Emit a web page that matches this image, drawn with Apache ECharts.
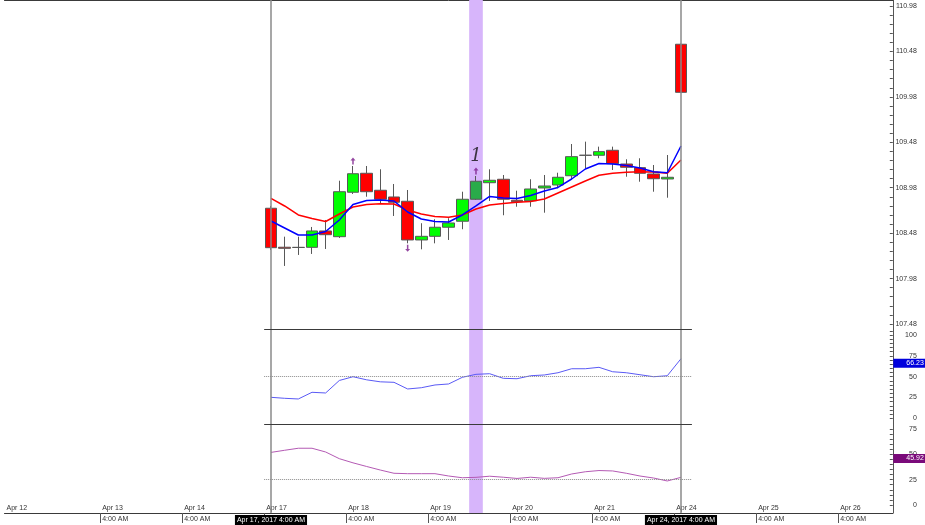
<!DOCTYPE html>
<html><head><meta charset="utf-8">
<script src="https://cdn.jsdelivr.net/npm/echarts@6/dist/echarts.min.js"></script>
<style>html,body{margin:0;padding:0;background:#fff}#c{width:925px;height:525px}</style>
</head><body><div id="c"></div>
<script>
// ---------- data ----------
const tradingDays = ['Apr 12','Apr 13','Apr 14','Apr 17','Apr 18','Apr 19','Apr 20','Apr 21','Apr 24','Apr 25','Apr 26'];
const sessionHours = ['4:00 AM','8:00 AM','12:00 PM','4:00 PM','8:00 PM','12:00 AM'];
const firstSlot = {day: 'Apr 12', hour: '12:00 AM'};
const slotCount = 65;
const candleStartDay = 'Apr 17';

// 4-hour candles [open, close, low, high]
const candles = [
  [108.754,108.320,108.295,108.779],
  [108.325,108.313,108.119,108.441],
  [108.322,108.324,108.240,108.441],
  [108.324,108.504,108.251,108.548],
  [108.504,108.463,108.306,108.625],
  [108.441,108.936,108.427,109.057],
  [108.930,109.134,108.911,109.219],
  [109.139,108.936,108.881,109.219],
  [108.952,108.853,108.809,109.183],
  [108.878,108.820,108.669,109.021],
  [108.831,108.405,108.368,108.955],
  [108.405,108.445,108.302,108.589],
  [108.445,108.545,108.368,108.633],
  [108.545,108.592,108.405,108.644],
  [108.611,108.853,108.523,108.936],
  [108.853,109.051,108.845,109.109],
  [109.035,109.062,108.834,109.183],
  [109.073,108.853,108.677,109.120],
  [108.842,108.826,108.771,108.947],
  [108.837,108.966,108.771,109.073],
  [108.977,108.999,108.705,109.120],
  [109.010,109.095,108.974,109.145],
  [109.112,109.322,109.065,109.461],
  [109.336,109.338,109.194,109.487],
  [109.337,109.377,109.304,109.432],
  [109.392,109.245,109.175,109.432],
  [109.241,109.205,109.101,109.293],
  [109.201,109.139,109.046,109.304],
  [109.131,109.079,108.936,109.230],
  [109.076,109.095,108.870,109.340],
  [110.559,110.030,110.025,110.565]
];
const maFast = [108.614,108.537,108.460,108.460,108.498,108.625,108.795,108.839,108.845,108.834,
  108.713,108.636,108.608,108.603,108.680,108.779,108.884,108.867,108.862,108.895,
  108.944,108.983,109.076,109.186,109.247,109.241,109.225,109.197,109.156,109.145,109.439];
const maSlow = [108.862,108.779,108.680,108.641,108.608,108.691,108.768,108.795,108.803,108.801,
  108.735,108.691,108.663,108.655,108.680,108.746,108.790,108.806,108.820,108.828,
  108.856,108.922,108.988,109.054,109.117,109.140,109.151,109.155,109.153,109.139,109.285];
const rsiValues = [25.2,24.0,23.2,31.2,30.4,45.4,49.9,46.2,43.8,43.2,35.2,36.7,40.0,41.2,49.2,52.8,
  53.5,48.0,47.5,51.1,52.0,54.7,59.5,59.5,61.2,55.9,54.7,52.3,49.9,51.1,71.5];
const stochValues = [51.9,54.0,56.0,56.0,52.3,45.7,41.6,38.0,34.5,31.3,30.9,30.9,30.9,28.6,26.9,27.3,
  28.4,27.4,26.2,27.4,26.3,26.9,30.6,32.8,34.0,33.6,31.3,28.6,26.6,23.7,27.3];
const rsiLast = 66.23;
const stochLast = 45.92;
const rsiLevel = 50;
const stochLevel = 25;
const priceTickLabels = [107.48,107.98,108.48,108.98,109.48,109.98,110.48,110.98];
const rsiTickLabels = [0,25,50,75,100];
const stochTickLabels = [0,25,50,75];
const arrowUpCandles = [6, 15];
const arrowDownCandles = [10];
const selectedCandle = 15;
const cursorCandles = [0, 30];
const noteText = '1';

// ---------- layout / build ----------
const FONT = 'Liberation Sans, Arial, sans-serif';
const slots = [firstSlot];
tradingDays.forEach(d => sessionHours.forEach(h => slots.push({day: d, hour: h})));
slots.length = slotCount;
const categories = slots.map((s, i) => s.day + ' ' + s.hour + ' #' + i);
const candleStart = slots.findIndex(s => s.day === candleStartDay && s.hour === sessionHours[0]);
const boundaryNames = [];
const upperLabel = [], lowerLabel = [];
for (let j = 0; j <= slotCount; j++) {
  boundaryNames.push('b' + j);
  const change = j < slotCount && j > 0 && slots[j].day !== slots[j - 1].day;
  upperLabel.push(j === 0 ? slots[0].day : (change ? slots[j].day : ''));
  lowerLabel.push(change ? slots[j].hour : '');
}
const dataStartX = candleStart;
const dataEndX = candleStart + candles.length + 0.3;
const bandX = candleStart + selectedCandle;

function ticks(a, b, step) { const r = []; for (let v = a; v <= b + 1e-9; v += step) r.push(+v.toFixed(4)); return r; }

const yRanges = [
  {min: 107.425, max: 111.046, labels: priceTickLabels, ticks: ticks(107.48, 111.0, 0.1), fmt: v => v.toFixed(2)},
  {min: -6.84, max: 107.2, labels: rsiTickLabels, ticks: ticks(0, 105, 5), fmt: v => String(v)},
  {min: -7.9, max: 79.93, labels: stochTickLabels, ticks: ticks(0, 75, 5), fmt: v => String(v)}
];

const grids = [
  {left: 4.5, right: 32.2, top: 0, height: 329},
  {left: 4.5, right: 32.2, top: 329, height: 95},
  {left: 4.5, right: 32.2, top: 424, height: 89}
];

const xAxes = [];
const catAxisIdx = [], valAxisIdx = [];
grids.forEach((g, gi) => {
  catAxisIdx.push(xAxes.length);
  xAxes.push({type: 'category', gridIndex: gi, data: categories, boundaryGap: true,
    position: gi === 0 ? 'top' : 'bottom', show: gi === 0,
    axisLine: {show: gi === 0, onZero: false, lineStyle: {color: '#3a3a3a', width: 1}},
    axisTick: {show: false}, axisLabel: {show: false}, splitLine: {show: false}});
  valAxisIdx.push(xAxes.length);
  xAxes.push({type: 'value', gridIndex: gi, min: 0, max: slotCount, show: false,
    position: gi === 0 ? 'top' : 'bottom', axisLine: {onZero: false}, splitLine: {show: false}});
});
xAxes.push({type: 'category', gridIndex: 2, position: 'bottom', boundaryGap: false, data: boundaryNames,
  axisLine: {show: true, onZero: false, lineStyle: {color: '#3a3a3a', width: 1}},
  axisTick: {show: true, length: 10, interval: (i) => lowerLabel[i] !== '', lineStyle: {color: '#555'}},
  axisLabel: {show: true, interval: (i) => lowerLabel[i] !== '', formatter: (v, i) => lowerLabel[i],
    align: 'left', margin: 3, padding: [0, 0, 0, 2], fontSize: 7, color: '#333', fontFamily: FONT, hideOverlap: false},
  splitLine: {show: false}});
xAxes.push({type: 'category', gridIndex: 2, position: 'bottom', boundaryGap: false, data: boundaryNames,
  axisLine: {show: false, onZero: false}, axisTick: {show: false},
  axisLabel: {show: true, inside: true, interval: (i) => upperLabel[i] !== '', formatter: (v, i) => upperLabel[i],
    align: 'left', margin: 1, padding: [0, 0, 0, 2], fontSize: 7, color: '#333', fontFamily: FONT, hideOverlap: false},
  splitLine: {show: false}});

const yAxes = yRanges.map((r, gi) => ({
  type: 'value', gridIndex: gi, position: 'right', min: r.min, max: r.max, scale: true,
  axisLine: {show: true, onZero: false, lineStyle: {color: '#555', width: 1}},
  axisTick: {show: true, inside: true, length: 3, customValues: r.ticks, lineStyle: {color: '#555'}},
  axisLabel: {show: true, customValues: r.labels, formatter: r.fmt, align: 'right', margin: 24,
    fontSize: 7, color: '#333', fontFamily: FONT},
  splitLine: {show: false}
}));

const series = [];
grids.forEach((g, gi) => {
  series.push({type: 'line', xAxisIndex: valAxisIdx[gi], yAxisIndex: gi, data: [], z: 1, silent: true,
    markArea: {silent: true, itemStyle: {color: '#d7b5fb'}, data: [[{xAxis: bandX}, {xAxis: bandX + 1}]]}});
  const ml = [];
  cursorCandles.forEach(ci => {
    const s = slots[candleStart + ci];
    ml.push({xAxis: candleStart + ci + 0.5, lineStyle: {color: '#8a8a8a', width: 1.5, type: 'solid'},
      label: gi === 2 ? {show: true, position: 'start', formatter: s.day + ', 2017 ' + s.hour,
        color: '#fff', backgroundColor: '#000', padding: [2, 2, 1, 2], fontSize: 7, fontFamily: FONT, distance: 2}
        : {show: false}});
  });
  if (gi > 0) {
    const r = yRanges[gi];
    ml.push([{coord: [dataStartX, r.max], lineStyle: {color: '#3a3a3a', width: 1, type: 'solid'}, label: {show: false}},
             {coord: [dataEndX, r.max]}]);
    const lvl = gi === 1 ? rsiLevel : stochLevel;
    ml.push([{coord: [dataStartX, lvl], lineStyle: {color: '#8c8c8c', width: 1, type: 'dotted'}, label: {show: false}},
             {coord: [dataEndX, lvl]}]);
  }
  series.push({type: 'line', xAxisIndex: valAxisIdx[gi], yAxisIndex: gi, data: [], z: 6, silent: true,
    markLine: {silent: true, symbol: ['none', 'none'], animation: false, data: ml}});
});

series.push({type: 'candlestick', xAxisIndex: catAxisIdx[0], yAxisIndex: 0, z: 3, barWidth: 12,
  encode: {x: 0, y: [1, 2, 3, 4]},
  itemStyle: {color: '#00ff00', color0: '#ff0000', borderColor: '#585858', borderColor0: '#585858', borderWidth: 1},
  data: candles.map((c, i) => i === selectedCandle
    ? {value: [candleStart + i].concat(c), itemStyle: {color: '#2aab4a'}}
    : {value: [candleStart + i].concat(c)})});
series.push({type: 'line', xAxisIndex: catAxisIdx[0], yAxisIndex: 0, z: 4, symbol: 'none',
  lineStyle: {color: '#ff0000', width: 1.5}, data: maSlow.map((v, i) => [candleStart + i, v])});
series.push({type: 'line', xAxisIndex: catAxisIdx[0], yAxisIndex: 0, z: 4, symbol: 'none',
  lineStyle: {color: '#0000ff', width: 1.5}, data: maFast.map((v, i) => [candleStart + i, v])});
series.push({type: 'scatter', xAxisIndex: catAxisIdx[0], yAxisIndex: 0, z: 5,
  symbol: 'path://M5,0 L10,5 L6.5,5 L6.5,12 L3.5,12 L3.5,5 L0,5 Z', symbolSize: [5, 7], symbolOffset: [0, -5],
  itemStyle: {color: '#7a1a8a'}, data: arrowUpCandles.map(i => [candleStart + i, candles[i][3]])});
series.push({type: 'scatter', xAxisIndex: catAxisIdx[0], yAxisIndex: 0, z: 5,
  symbol: 'path://M5,12 L10,7 L6.5,7 L6.5,0 L3.5,0 L3.5,7 L0,7 Z', symbolSize: [5, 7], symbolOffset: [0, 5],
  itemStyle: {color: '#7a1a8a'}, data: arrowDownCandles.map(i => [candleStart + i, candles[i][2]])});
series.push({type: 'scatter', xAxisIndex: catAxisIdx[0], yAxisIndex: 0, z: 5, symbolSize: 0,
  data: [[candleStart + selectedCandle, candles[selectedCandle][3]]],
  label: {show: true, position: 'inside', offset: [0, -20], formatter: noteText, fontSize: 18,
    color: '#111', fontFamily: 'DejaVu Serif, serif', fontStyle: 'italic'}});
series.push({type: 'line', xAxisIndex: catAxisIdx[1], yAxisIndex: 1, z: 4, symbol: 'none',
  lineStyle: {color: '#5a5af5', width: 1}, data: rsiValues.map((v, i) => [candleStart + i, v])});
series.push({type: 'line', xAxisIndex: catAxisIdx[2], yAxisIndex: 2, z: 4, symbol: 'none',
  lineStyle: {color: '#b45ab4', width: 1}, data: stochValues.map((v, i) => [candleStart + i, v])});

const chart = echarts.init(document.getElementById('c'), null, {renderer: 'canvas'});
chart.setOption({
  animation: false,
  backgroundColor: '#ffffff',
  grid: grids.map(g => Object.assign({outerBoundsMode: 'none', containLabel: false}, g)),
  xAxis: xAxes,
  yAxis: yAxes,
  series: series
});

// last-value boxes on the right axis, positioned through the axes' own scales
const axisX = chart.convertToPixel({xAxisIndex: valAxisIdx[1]}, slotCount);
const boxes = [
  {yAxisIndex: 1, value: rsiLast, bg: '#0000dd'},
  {yAxisIndex: 2, value: stochLast, bg: '#7a0a7a'}
];
chart.setOption({
  graphic: boxes.map(b => ({
    type: 'text', z: 100, silent: true,
    x: axisX + 0.5,
    y: chart.convertToPixel({yAxisIndex: b.yAxisIndex}, b.value),
    style: {text: b.value.toFixed(2), fill: '#fff', backgroundColor: b.bg, padding: [1, 2, 1, 13],
      font: '7px Liberation Sans, Arial, sans-serif', align: 'left', verticalAlign: 'middle'}
  }))
});
</script></body></html>
